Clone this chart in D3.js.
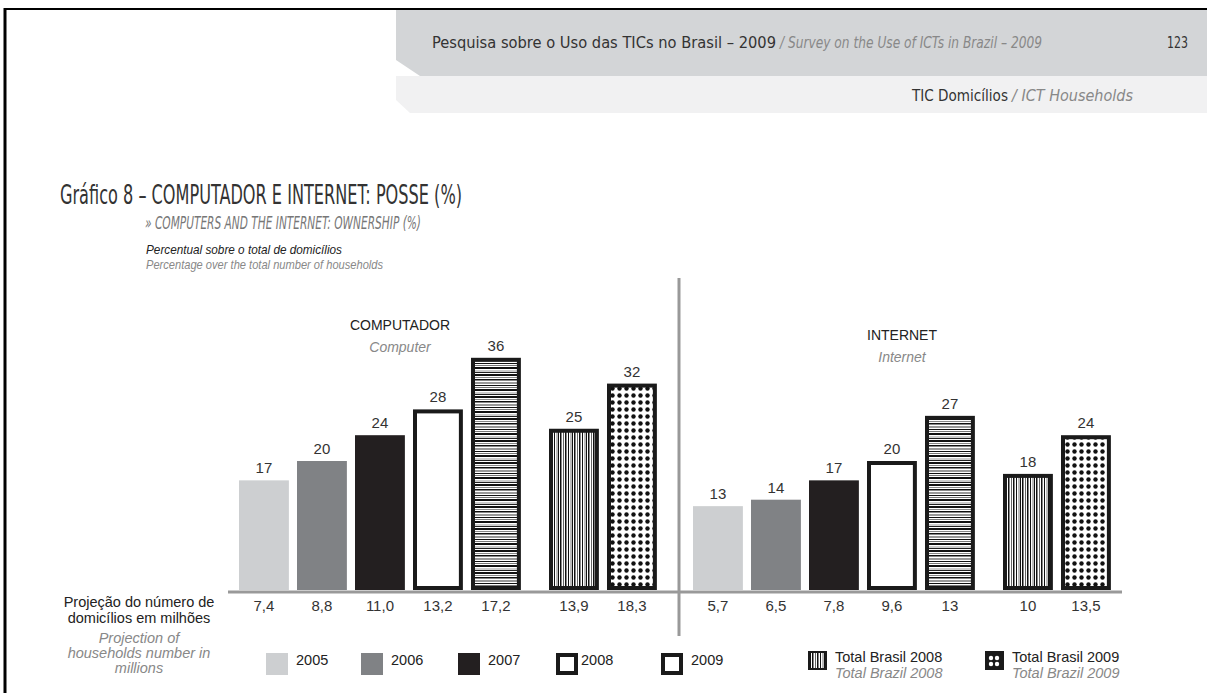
<!DOCTYPE html>
<html>
<head>
<meta charset="utf-8">
<script src="https://cdn.jsdelivr.net/npm/d3@7"></script>
<style>
  body { margin: 0; background: #fff; }
  svg { display: block; }
</style>
</head>
<body>
<div id="chart"></div>
<script>
const categories = ["2005", "2006", "2007", "2008", "2009", "Total Brasil 2008", "Total Brasil 2009"];
const categoriesEn = ["2005", "2006", "2007", "2008", "2009", "Total Brazil 2008", "Total Brazil 2009"];
const computerValues = [17, 20, 24, 28, 36, 25, 32];
const internetValues = [13, 14, 17, 20, 27, 18, 24];
const computerHouseholds = ["7,4", "8,8", "11,0", "13,2", "17,2", "13,9", "18,3"];
const internetHouseholds = ["5,7", "6,5", "7,8", "9,6", "13", "10", "13,5"];

const width = 1207, height = 693;
const sans = "'Liberation Sans', Arial, sans-serif";
const narrow = "'Liberation Sans Narrow', 'DejaVu Sans Condensed', 'Liberation Sans', sans-serif";

const svg = d3.select("#chart")
    .append("svg")
        .attr("width", width)
        .attr("height", height);

// patterns for the striped / dotted bars
const defs = svg.append("defs");

const hStripes = defs.append("pattern")
    .attr("id", "hstripes")
    .attr("patternUnits", "userSpaceOnUse")
    .attr("width", 10).attr("height", 22);
hStripes.append("rect").attr("width", 10).attr("height", 22).attr("fill", "#fff");
[[0, 2, "#111"], [3, 1, "#888"], [5, 1.5, "#111"], [8, 2, "#999"], [11, 1, "#111"],
 [13, 1, "#777"], [15, 2, "#111"], [18.5, 1, "#999"], [20, 1, "#222"]].forEach(function(s) {
    hStripes.append("rect").attr("x", 0).attr("y", s[0]).attr("width", 10).attr("height", s[1]).attr("fill", s[2]);
});

const vStripes = defs.append("pattern")
    .attr("id", "vstripes")
    .attr("patternUnits", "userSpaceOnUse")
    .attr("width", 14).attr("height", 10);
vStripes.append("rect").attr("width", 14).attr("height", 10).attr("fill", "#fff");
[[0, 1.5, "#111"], [3, 1, "#666"], [5, 1.5, "#111"], [8, 1, "#111"], [10.5, 1, "#777"], [12, 1, "#111"]].forEach(function(s) {
    vStripes.append("rect").attr("x", s[0]).attr("y", 0).attr("width", s[1]).attr("height", 10).attr("fill", s[2]);
});

const dots = defs.append("pattern")
    .attr("id", "dots")
    .attr("patternUnits", "userSpaceOnUse")
    .attr("width", 7).attr("height", 7);
dots.append("rect").attr("width", 7).attr("height", 7).attr("fill", "#fff");
dots.append("circle").attr("cx", 3.5).attr("cy", 3.5).attr("r", 2.2).attr("fill", "#111");

const fills = ["#cdcfd1", "#808285", "#231f20", "#fff", "url(#hstripes)", "url(#vstripes)", "url(#dots)"];
const outlined = [false, false, false, true, true, true, true];

// page frame
svg.append("line").attr("x1", 5).attr("x2", width).attr("y1", 9).attr("y2", 9)
    .attr("stroke", "#000").attr("stroke-width", 2);
svg.append("line").attr("x1", 5).attr("x2", 5).attr("y1", 8).attr("y2", height)
    .attr("stroke", "#000").attr("stroke-width", 3);

// header bands
svg.append("path")
    .attr("d", "M396,76 L396,100 L410,113 L1207,113 L1207,76 Z")
    .attr("fill", "#f1f1f2");
svg.append("path")
    .attr("d", "M396,10 L1207,10 L1207,76 L420,76 L396,60 Z")
    .attr("fill", "#d3d5d7");

svg.append("text").attr("x", 432).attr("y", 48)
    .attr("font-family", narrow).attr("font-size", 15).attr("fill", "#333")
    .attr("textLength", 344).attr("lengthAdjust", "spacingAndGlyphs")
    .text("Pesquisa sobre o Uso das TICs no Brasil – 2009");
svg.append("text").attr("x", 780).attr("y", 48)
    .attr("font-family", narrow).attr("font-size", 15).attr("font-style", "italic").attr("fill", "#888")
    .attr("textLength", 262).attr("lengthAdjust", "spacingAndGlyphs")
    .text("/ Survey on the Use of ICTs in Brazil – 2009");
svg.append("text").attr("x", 1167).attr("y", 48)
    .attr("font-family", narrow).attr("font-size", 15).attr("fill", "#333")
    .attr("textLength", 21).attr("lengthAdjust", "spacingAndGlyphs")
    .text("123");
svg.append("text").attr("x", 1008).attr("y", 101).attr("text-anchor", "end")
    .attr("font-family", narrow).attr("font-size", 15).attr("fill", "#333")
    .attr("textLength", 96).attr("lengthAdjust", "spacingAndGlyphs")
    .text("TIC Domicílios");
svg.append("text").attr("x", 1012).attr("y", 101)
    .attr("font-family", narrow).attr("font-size", 15).attr("font-style", "italic").attr("fill", "#888")
    .attr("textLength", 121).attr("lengthAdjust", "spacingAndGlyphs")
    .text("/ ICT Households");

// titles
svg.append("text").attr("x", 60).attr("y", 204)
    .attr("font-family", narrow).attr("font-size", 26).attr("fill", "#333")
    .attr("textLength", 402).attr("lengthAdjust", "spacingAndGlyphs")
    .text("Gráfico 8 – COMPUTADOR E INTERNET: POSSE (%)");
svg.append("text").attr("x", 145).attr("y", 229)
    .attr("font-family", narrow).attr("font-size", 18).attr("font-style", "italic").attr("fill", "#777")
    .attr("textLength", 276).attr("lengthAdjust", "spacingAndGlyphs")
    .text("» COMPUTERS AND THE INTERNET: OWNERSHIP (%)");
svg.append("text").attr("x", 146).attr("y", 254)
    .attr("font-family", sans).attr("font-size", 13).attr("font-style", "italic").attr("fill", "#222")
    .attr("textLength", 196).attr("lengthAdjust", "spacingAndGlyphs")
    .text("Percentual sobre o total de domicílios");
svg.append("text").attr("x", 146).attr("y", 269)
    .attr("font-family", sans).attr("font-size", 13).attr("font-style", "italic").attr("fill", "#888")
    .attr("textLength", 237).attr("lengthAdjust", "spacingAndGlyphs")
    .text("Percentage over the total number of households");

// scales
const y = d3.scaleLinear().domain([0, 40]).range([590, 332]);
const totalShift = 20;

const panels = [
    { title: "COMPUTADOR", sub: "Computer", titleX: 400, titleY: 330, values: computerValues, households: computerHouseholds, x0: 239 },
    { title: "INTERNET", sub: "Internet", titleX: 902, titleY: 340, values: internetValues, households: internetHouseholds, x0: 693 }
];

panels.forEach(function(p) {
    const x = d3.scaleBand()
        .domain(categories)
        .range([p.x0, p.x0 + 58 * 6.86])
        .paddingInner(0.14)
        .paddingOuter(0);
    const bx = function(c) { return x(c) + (categories.indexOf(c) >= 5 ? totalShift : 0); };

    const rows = categories.map(function(c, i) {
        return { cat: c, value: p.values[i], hh: p.households[i], fill: fills[i], outlined: outlined[i] };
    });

    const g = svg.append("g");

    g.selectAll("rect.bar")
        .data(rows)
        .join("rect")
            .attr("class", "bar")
            .attr("x", d => bx(d.cat) + (d.outlined ? 2 : 0))
            .attr("y", d => y(d.value) + (d.outlined ? 2 : 0))
            .attr("width", d => x.bandwidth() - (d.outlined ? 4 : 0))
            .attr("height", d => y(0) - y(d.value) - (d.outlined ? 4 : 0))
            .attr("fill", d => d.fill)
            .attr("stroke", d => d.outlined ? "#1a1a1a" : "none")
            .attr("stroke-width", 4);

    g.selectAll("text.val")
        .data(rows)
        .join("text")
            .attr("class", "val")
            .attr("x", d => bx(d.cat) + x.bandwidth() / 2)
            .attr("y", d => y(d.value) - 7)
            .attr("text-anchor", "middle")
            .attr("font-family", sans).attr("font-size", 15).attr("fill", "#333")
            .text(d => d.value);

    g.selectAll("text.hh")
        .data(rows)
        .join("text")
            .attr("class", "hh")
            .attr("x", d => bx(d.cat) + x.bandwidth() / 2)
            .attr("y", 611)
            .attr("text-anchor", "middle")
            .attr("font-family", sans).attr("font-size", 15).attr("fill", "#333")
            .text(d => d.hh);

    g.append("text").attr("x", p.titleX).attr("y", p.titleY).attr("text-anchor", "middle")
        .attr("font-family", sans).attr("font-size", 14).attr("fill", "#222")
        .text(p.title);
    g.append("text").attr("x", p.titleX).attr("y", p.titleY + 22).attr("text-anchor", "middle")
        .attr("font-family", sans).attr("font-size", 14).attr("font-style", "italic").attr("fill", "#888")
        .text(p.sub);
});

// baseline and divider
svg.append("line").attr("x1", 228).attr("x2", 1122).attr("y1", 592).attr("y2", 592)
    .attr("stroke", "#999").attr("stroke-width", 3);
svg.append("line").attr("x1", 679).attr("x2", 679).attr("y1", 278).attr("y2", 636)
    .attr("stroke", "#999").attr("stroke-width", 3);

// left labels
const leftLabels = [
    ["Projeção do número de", 607, "#222", "normal"],
    ["domicílios em milhões", 623, "#222", "normal"],
    ["Projection of", 643, "#888", "italic"],
    ["households number in", 658, "#888", "italic"],
    ["millions", 673, "#888", "italic"]
];
svg.selectAll("text.left")
    .data(leftLabels)
    .join("text")
        .attr("class", "left")
        .attr("x", 139).attr("y", d => d[1])
        .attr("text-anchor", "middle")
        .attr("font-family", sans).attr("font-size", 14.5)
        .attr("font-style", d => d[3]).attr("fill", d => d[2])
        .text(d => d[0]);

// legend
const legendX = [266, 361, 458, 556, 661, 808, 985];
const legend = svg.append("g");
categories.forEach(function(c, i) {
    const isTotal = i >= 5;
    const s = isTotal ? 19 : 22;
    const lx = legendX[i], ly = isTotal ? 651 : 653;
    if (i === 3 || i === 4) {
        legend.append("rect").attr("x", lx + 2).attr("y", ly + 2).attr("width", s - 4).attr("height", s - 4)
            .attr("fill", "#fff").attr("stroke", "#1a1a1a").attr("stroke-width", 4);
    } else if (i === 6) {
        legend.append("rect").attr("x", lx).attr("y", ly).attr("width", s).attr("height", s).attr("fill", "#1a1a1a");
        [[6, 7], [12, 7], [6, 13], [12, 13]].forEach(function(pt) {
            legend.append("circle").attr("cx", lx + pt[0]).attr("cy", ly + pt[1]).attr("r", 2.2).attr("fill", "#fff");
        });
    } else if (i === 5) {
        legend.append("rect").attr("x", lx + 1).attr("y", ly + 1).attr("width", s - 2).attr("height", s - 2)
            .attr("fill", "url(#vstripes)").attr("stroke", "#1a1a1a").attr("stroke-width", 2);
    } else {
        legend.append("rect").attr("x", lx).attr("y", ly).attr("width", s).attr("height", s).attr("fill", fills[i]);
    }
    const tx = lx + s + (i === 3 ? 3 : 8);
    legend.append("text").attr("x", tx).attr("y", isTotal ? 662 : 665)
        .attr("font-family", sans).attr("font-size", 14.5).attr("fill", "#222")
        .text(c);
    if (isTotal) {
        legend.append("text").attr("x", tx).attr("y", 678)
            .attr("font-family", sans).attr("font-size", 14.5).attr("font-style", "italic").attr("fill", "#888")
            .text(categoriesEn[i]);
    }
});
</script>
</body>
</html>
